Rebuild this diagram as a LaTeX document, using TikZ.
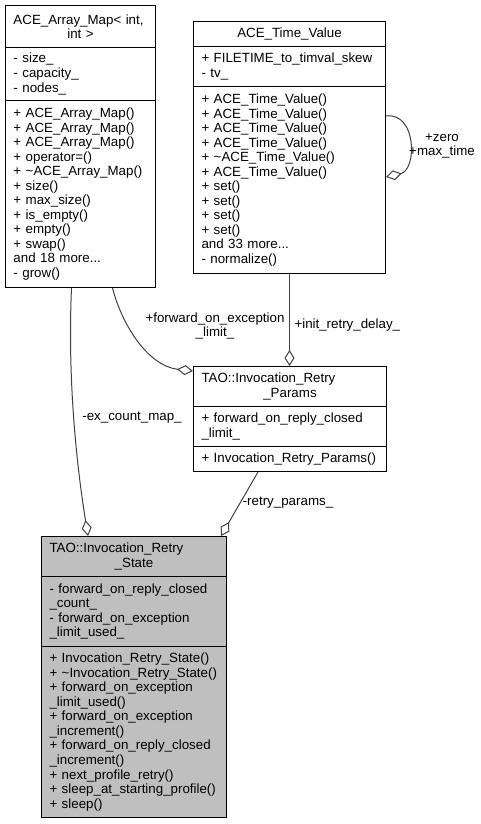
\documentclass[tikz,border=0pt]{standalone}
\usepackage{fontspec}
\setmainfont{Liberation Sans}
\usetikzlibrary{arrows.meta,calc}
\hyphenpenalty=10000
\exhyphenpenalty=10000
\definecolor{edgegray}{RGB}{64,64,64}
\definecolor{classgray}{RGB}{191,191,191}

\tikzset{every picture/.style={line width=0.75pt}}

\begin{document}
\begin{tikzpicture}[x=0.75pt,y=0.75pt,yscale=-1,xscale=1,
	sec/.style={draw, anchor=north west, inner xsep=6pt, inner ysep=2pt, align=left, font=\fontsize{10}{10.9}\selectfont},
	lbl/.style={inner sep=0.75pt, align=center, font=\fontsize{10}{10.9}\selectfont},
	member/.style={draw=edgegray, -{Diamond[open,length=12pt,width=7.5pt]}}]
		\useasboundingbox (0,0) rectangle (480,824);
		
		%Class: ACE_Array_Map
		\node[sec, text width=100.5pt, minimum height=31.5pt] (mapT) at (5,5) {ACE\_Array\_Map<~int,\\\hspace*{\fill}int~>\hspace*{\fill}\null};
		\node[sec, text width=100.5pt, minimum height=39.75pt] (mapA) at (5,47) {-~size\_\\-~capacity\_\\-~nodes\_};
		\node[sec, text width=100.5pt, minimum height=140.25pt] (mapO) at (5,100) {+~ACE\_Array\_Map()\\+~ACE\_Array\_Map()\\+~ACE\_Array\_Map()\\+~operator=()\\+~\textasciitilde ACE\_Array\_Map()\\+~size()\\+~max\_size()\\+~is\_empty()\\+~empty()\\+~swap()\\and 18 more...\\-~grow()};
		%Class: ACE_Time_Value
		\node[sec, text width=132pt, minimum height=18.75pt] (timeT) at (193,21) {\hspace*{\fill}ACE\_Time\_Value\hspace*{\fill}\null};
		\node[sec, text width=132pt, minimum height=30pt] (timeA) at (193,46) {+~FILETIME\_to\_timval\_skew\\-~tv\_};
		\node[sec, text width=132pt, minimum height=140.25pt] (timeO) at (193,86) {+~ACE\_Time\_Value()\\+~ACE\_Time\_Value()\\+~ACE\_Time\_Value()\\+~ACE\_Time\_Value()\\+~\textasciitilde ACE\_Time\_Value()\\+~ACE\_Time\_Value()\\+~set()\\+~set()\\+~set()\\+~set()\\and 33 more...\\-~normalize()};
		%Class: TAO::Invocation_Retry_Params
		\node[sec, text width=132.75pt, minimum height=30pt] (parT) at (193,366) {TAO::Invocation\_Retry\\\hspace*{\fill}\_Params\hspace*{\fill}\null};
		\node[sec, text width=132.75pt, minimum height=30pt] (parA) at (193,406) {+~forward\_on\_reply\_closed\\\_limit\_};
		\node[sec, text width=132.75pt, minimum height=18.75pt] (parO) at (193,446) {+~Invocation\_Retry\_Params()};
		%Class: TAO::Invocation_Retry_State
		\node[sec, fill=classgray, text width=126.75pt, minimum height=30pt] (stateT) at (41,536) {TAO::Invocation\_Retry\\\hspace*{\fill}\_State\hspace*{\fill}\null};
		\node[sec, fill=classgray, text width=126.75pt, minimum height=52.5pt] (stateA) at (41,576) {-~forward\_on\_reply\_closed\\\_count\_\\-~forward\_on\_exception\\\_limit\_used\_};
		\node[sec, fill=classgray, text width=126.75pt, minimum height=128.25pt] (stateO) at (41,646) {+~Invocation\_Retry\_State()\\+~\textasciitilde Invocation\_Retry\_State()\\+~forward\_on\_exception\\\_limit\_used()\\+~forward\_on\_exception\\\_increment()\\+~forward\_on\_reply\_closed\\\_increment()\\+~next\_profile\_retry()\\+~sleep\_at\_starting\_profile()\\+~sleep()};
		
		\draw[member] ($(timeO.north east)+(0,30)$) .. controls (417,112) and (417,170) .. ($(timeO.north east)+(0,91)$);
		\draw[member] ($(mapO.south)+(32,0)$) .. controls (122,325) and (148,366) .. ($(parT.north west)+(0,5)$);
		\draw[member] (timeO.south) -- (timeO.south |- parT.north);
		\draw[member] ($(mapO.south)+(-9,0)$) .. controls (67,390) and (79,480) .. ($(stateT.north west)+(47,0)$);
		\draw[member] ($(parO.south)+(-32,0)$) -- ($(stateT.north east)+(-6,0)$);
		
		\node[lbl] (zeroLbl) at (442,146) {+zero\\+max\_time};
		\node[lbl] (fwdLbl) at (215,326) {+forward\_on\_exception\\\_limit\_};
		\node[lbl, anchor=west] (initLbl) at (293,325) {+init\_retry\_delay\_};
		\node[lbl] (exLbl) at (132,418) {-ex\_count\_map\_};
		\node[lbl] (retryLbl) at (288,503) {-retry\_params\_};
		
	\end{tikzpicture}
\end{document}
